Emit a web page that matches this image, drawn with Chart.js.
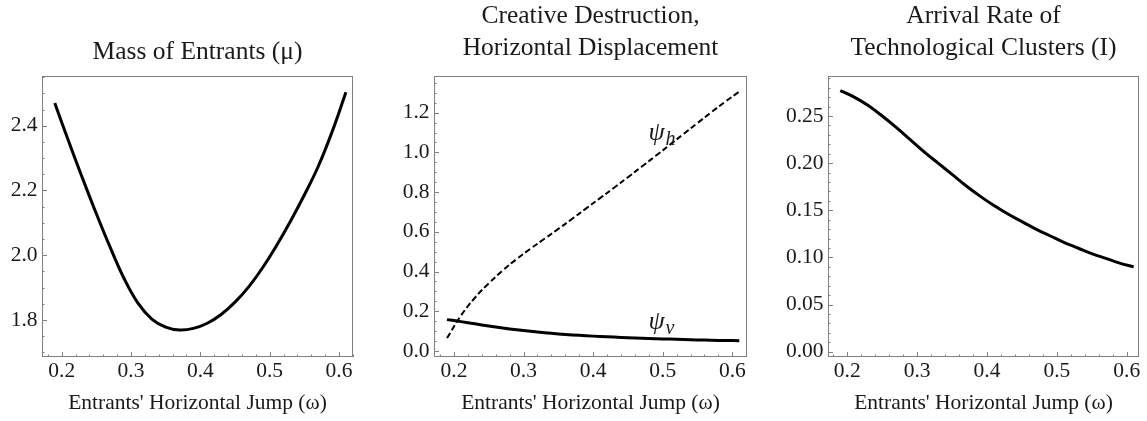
<!DOCTYPE html>
<html><head><meta charset="utf-8">
<script src="https://cdn.jsdelivr.net/npm/chart.js@4.4.1/dist/chart.umd.min.js"></script>
<style>
html,body{margin:0;padding:0;background:#fff;}
#wrap{position:relative;width:1147px;height:421px;overflow:hidden;background:#fff;}
canvas{position:absolute;top:0;}
</style></head><body>
<div id="wrap">
<canvas id="c1" width="380" height="421" style="left:0px"></canvas>
<canvas id="c2" width="380" height="421" style="left:380px"></canvas>
<canvas id="c3" width="387" height="421" style="left:760px"></canvas>
</div>
<script>
// ---- data ----
const omega = [0.19,0.21,0.23,0.25,0.27,0.29,0.31,0.33,0.35,0.37,0.39,0.41,0.43,0.45,0.47,0.49,0.51,0.53,0.55,0.57,0.59,0.61];
const massEntrants = [2.470,2.352,2.238,2.128,2.024,1.928,1.852,1.803,1.778,1.769,1.774,1.790,1.817,1.855,1.903,1.962,2.030,2.105,2.186,2.274,2.381,2.503];
const psiH = [0.065,0.178,0.268,0.341,0.405,0.463,0.515,0.565,0.615,0.666,0.718,0.770,0.822,0.875,0.929,0.983,1.038,1.093,1.148,1.203,1.256,1.306];
const psiV = [0.158,0.148,0.137,0.126,0.116,0.107,0.099,0.092,0.086,0.081,0.077,0.073,0.070,0.067,0.064,0.062,0.060,0.058,0.056,0.054,0.053,0.052];
const arrivalRate = [0.277,0.270,0.261,0.250,0.238,0.225,0.212,0.200,0.188,0.176,0.165,0.155,0.146,0.138,0.130,0.123,0.116,0.110,0.104,0.099,0.094,0.090];

const xTickValues = [0.2,0.3,0.4,0.5,0.6];
const muTickValues = [1.8,2.0,2.2,2.4];
const psiTickValues = [0.0,0.2,0.4,0.6,0.8,1.0,1.2];
const arrivalTickValues = [0.00,0.05,0.10,0.15,0.20,0.25];

const titleMu = ['Mass of Entrants (\u03BC)'];
const titlePsi = ['Creative Destruction,', 'Horizontal Displacement'];
const titleArrival = ['Arrival Rate of', 'Technological Clusters (I)'];
const xAxisTitle = "Entrants' Horizontal Jump (\u03C9)";

// ---- styling ----
const SERIF = "'Liberation Serif','Times New Roman',serif";
const TEXT = '#1a1a1a';
const FRAME = '#808080';
Chart.defaults.font.family = SERIF;
Chart.defaults.color = TEXT;

const pts = (ys) => omega.map((x, i) => ({x: x, y: ys[i]}));

const frameTicks = {
  id: 'frameTicks',
  beforeDatasetsDraw(chart, args, o) {
    const {ctx, chartArea: a, scales: {x, y}} = chart;
    ctx.save();
    ctx.strokeStyle = FRAME;
    ctx.lineWidth = 1;
    ctx.strokeRect(a.left + 0.5, a.top + 0.5, a.right - a.left - 1, a.bottom - a.top - 1);
    ctx.beginPath();
    const tickX = (v, len) => { const p = Math.round(x.getPixelForValue(v)) + 0.5; ctx.moveTo(p, a.bottom); ctx.lineTo(p, a.bottom - len); };
    const tickY = (v, len) => { const p = Math.round(y.getPixelForValue(v)) + 0.5; ctx.moveTo(a.left, p); ctx.lineTo(a.left + len, p); };
    const each = (scale, step, fn, len) => {
      for (let k = Math.ceil(scale.min / step - 1e-9); k * step <= scale.max + 1e-9; k++) fn(k * step, len);
    };
    each(x, o.xMinor, tickX, 2.5);
    each(y, o.yMinor, tickY, 2.5);
    o.xMajor.forEach(v => tickX(v, 5));
    o.yMajor.forEach(v => tickY(v, 5));
    ctx.stroke();
    ctx.restore();
  }
};

const curveLabels = {
  id: 'curveLabels',
  afterDatasetsDraw(chart, args, o) {
    if (!o.items) return;
    const {ctx, scales: {x, y}} = chart;
    ctx.save();
    ctx.fillStyle = TEXT;
    ctx.textBaseline = 'alphabetic';
    ctx.textAlign = 'left';
    o.items.forEach(it => {
      const px = x.getPixelForValue(it.x), py = y.getPixelForValue(it.y);
      ctx.font = 'italic 26px ' + SERIF;
      ctx.fillText(it.main, px, py);
      const w = ctx.measureText(it.main).width;
      ctx.font = 'italic 20px ' + SERIF;
      ctx.fillText(it.sub, px + w + 1, py + 5);
    });
    ctx.restore();
  }
};

function makeChart(id, cfg) {
  return new Chart(document.getElementById(id), {
    type: 'line',
    data: {datasets: cfg.datasets},
    plugins: [frameTicks, curveLabels],
    options: {
      responsive: false,
      animation: false,
      devicePixelRatio: 1,
      layout: {padding: {left: 0, right: cfg.padRight, top: 0, bottom: 0}},
      elements: {point: {radius: 0}, line: {tension: 0.4, borderCapStyle: 'butt'}},
      plugins: {
        legend: {display: false},
        tooltip: {enabled: false},
        title: {
          display: true, text: cfg.title, fullSize: false, color: TEXT,
          font: {size: 25.5, family: SERIF, weight: 'normal', lineHeight: 1.255},
          padding: cfg.titlePad
        },
        frameTicks: {xMajor: xTickValues, yMajor: cfg.yTicks, xMinor: 0.02, yMinor: cfg.yMinor},
        curveLabels: {items: cfg.labels}
      },
      scales: {
        x: {
          type: 'linear', min: cfg.xMin, max: cfg.xMax,
          afterBuildTicks: s => { s.ticks = xTickValues.map(v => ({value: v})); },
          afterFit: s => { s.height = 64; },
          grid: {display: false, drawTicks: false},
          border: {display: false},
          ticks: {font: {size: 21.5, family: SERIF}, color: TEXT, padding: 1, maxRotation: 0, autoSkip: false,
                  callback: v => Number(v).toFixed(1)},
          title: {display: true, text: xAxisTitle, color: TEXT, font: {size: 21.5, family: SERIF, lineHeight: 1.2}, padding: {top: 0, bottom: 5}}
        },
        y: {
          type: 'linear', min: cfg.yMin, max: cfg.yMax,
          afterBuildTicks: s => { s.ticks = cfg.yTicks.map(v => ({value: v})); },
          afterFit: s => { s.width = cfg.yWidth; },
          grid: {display: false, drawTicks: false},
          border: {display: false},
          ticks: {font: {size: 21.5, family: SERIF}, color: TEXT, padding: 4.5, autoSkip: false,
                  callback: v => Number(v).toFixed(cfg.yDec)}
        }
      }
    }
  });
}

makeChart('c1', {
  title: titleMu, titlePad: {top: 36, bottom: 8},
  padRight: 27, yWidth: 42,
  xMin: 0.1716, xMax: 0.6202, yMin: 1.6857, yMax: 2.5535,
  yTicks: muTickValues, yMinor: 0.05, yDec: 1,
  datasets: [{data: pts(massEntrants), borderColor: '#000', borderWidth: 3, fill: false}]
});

makeChart('c2', {
  title: titlePsi, titlePad: {top: 0, bottom: 12},
  padRight: 13, yWidth: 54,
  xMin: 0.1713, xMax: 0.6211, yMin: -0.0302, yMax: 1.3848,
  yTicks: psiTickValues, yMinor: 0.05, yDec: 1,
  labels: [{x: 0.4795, y: 1.0605, main: '\u03C8', sub: 'h'}, {x: 0.4795, y: 0.1108, main: '\u03C8', sub: 'v'}],
  datasets: [
    {data: pts(psiH), borderColor: '#000', borderWidth: 2, borderDash: [6, 3], fill: false},
    {data: pts(psiV), borderColor: '#000', borderWidth: 3, fill: false}
  ]
});

makeChart('c3', {
  title: titleArrival, titlePad: {top: 0, bottom: 12},
  padRight: 8, yWidth: 68,
  xMin: 0.1724, xMax: 0.6176, yMin: -0.0056, yMax: 0.2924,
  yTicks: arrivalTickValues, yMinor: 0.01, yDec: 2,
  datasets: [{data: pts(arrivalRate), borderColor: '#000', borderWidth: 3, fill: false}]
});
</script>
</body></html>
